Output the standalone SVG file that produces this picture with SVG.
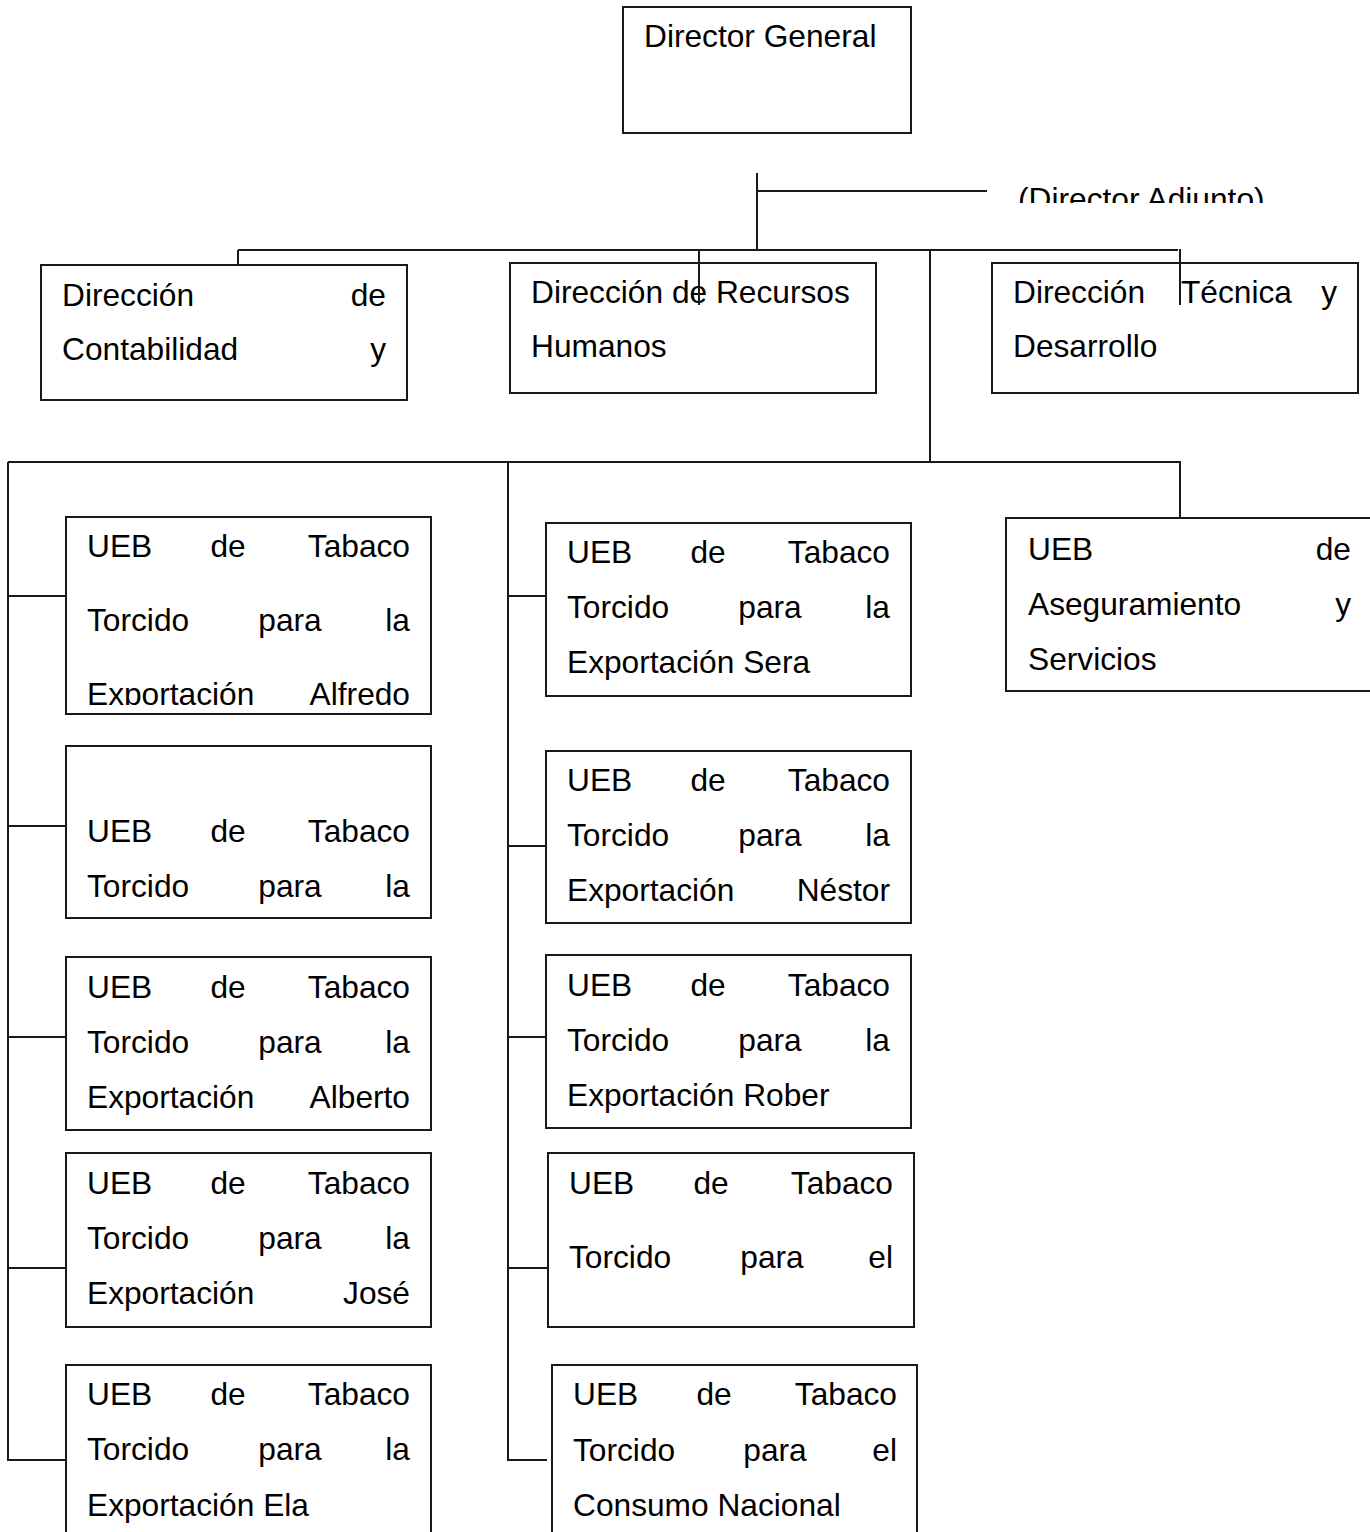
<svg xmlns="http://www.w3.org/2000/svg" width="1370" height="1532" viewBox="0 0 1370 1532">
<style>
.box{fill:#fff;stroke:#1a1a1a;stroke-width:2}
.ln{fill:none;stroke:#1a1a1a;stroke-width:2}
text{font-family:"Liberation Sans",Arial,sans-serif;font-size:31.7px;fill:#000}
.e{text-anchor:end}
.m{text-anchor:middle}
</style>
<defs>
<clipPath id="clipAdj"><rect x="990" y="170" width="380" height="33"/></clipPath>
<clipPath id="clipAlf"><rect x="66" y="517" width="366" height="188"/></clipPath>
</defs>
<rect width="1370" height="1532" fill="#fff"/>
<g id="director-general">
<rect class="box" x="623" y="7" width="288" height="126"/>
<text x="644" y="47">Director General</text>
</g>
<g id="director-adjunto">
<text x="1018" y="210" clip-path="url(#clipAdj)">(Director Adjunto)</text>
</g>
<g id="dir-contabilidad">
<rect class="box" x="41" y="265" width="366" height="135"/>
<text x="62" y="306">Dirección</text><text class="e" x="386" y="306">de</text>
<text x="62" y="360">Contabilidad</text><text class="e" x="386" y="360">y</text>
</g>
<g id="dir-rrhh">
<rect class="box" x="510" y="263" width="366" height="130"/>
<text x="531" y="303">Dirección de Recursos</text>
<text x="531" y="357">Humanos</text>
</g>
<g id="dir-tecnica">
<rect class="box" x="992" y="263" width="366" height="130"/>
<text x="1013" y="303">Dirección</text><text x="1181" y="303">Técnica</text><text class="e" x="1337" y="303">y</text>
<text x="1013" y="357">Desarrollo</text>
</g>
<g id="ueb-aseguramiento">
<rect class="box" x="1006" y="518" width="370" height="173"/>
<text x="1028" y="560">UEB</text><text class="e" x="1351" y="560">de</text>
<text x="1028" y="615">Aseguramiento</text><text class="e" x="1351" y="615">y</text>
<text x="1028" y="670">Servicios</text>
</g>
<g id="ueb-alfredo">
<rect class="box" x="66" y="517" width="365" height="197"/>
<g clip-path="url(#clipAlf)">
<text x="87" y="557">UEB</text><text class="m" x="228" y="557">de</text><text class="e" x="410" y="557">Tabaco</text>
<text x="87" y="631">Torcido</text><text class="m" x="290" y="631">para</text><text class="e" x="410" y="631">la</text>
<text x="87" y="705">Exportación</text><text class="e" x="410" y="705">Alfredo</text>
</g>
</g>
<g id="ueb-left2">
<rect class="box" x="66" y="746" width="365" height="172"/>
<text x="87" y="842">UEB</text><text class="m" x="228" y="842">de</text><text class="e" x="410" y="842">Tabaco</text>
<text x="87" y="897">Torcido</text><text class="m" x="290" y="897">para</text><text class="e" x="410" y="897">la</text>
</g>
<g id="ueb-alberto">
<rect class="box" x="66" y="957" width="365" height="173"/>
<text x="87" y="998">UEB</text><text class="m" x="228" y="998">de</text><text class="e" x="410" y="998">Tabaco</text>
<text x="87" y="1053">Torcido</text><text class="m" x="290" y="1053">para</text><text class="e" x="410" y="1053">la</text>
<text x="87" y="1108">Exportación</text><text class="e" x="410" y="1108">Alberto</text>
</g>
<g id="ueb-jose">
<rect class="box" x="66" y="1153" width="365" height="174"/>
<text x="87" y="1194">UEB</text><text class="m" x="228" y="1194">de</text><text class="e" x="410" y="1194">Tabaco</text>
<text x="87" y="1249">Torcido</text><text class="m" x="290" y="1249">para</text><text class="e" x="410" y="1249">la</text>
<text x="87" y="1304">Exportación</text><text class="e" x="410" y="1304">José</text>
</g>
<g id="ueb-ela">
<rect class="box" x="66" y="1365" width="365" height="180"/>
<text x="87" y="1405">UEB</text><text class="m" x="228" y="1405">de</text><text class="e" x="410" y="1405">Tabaco</text>
<text x="87" y="1460">Torcido</text><text class="m" x="290" y="1460">para</text><text class="e" x="410" y="1460">la</text>
<text x="87" y="1516">Exportación Ela</text>
</g>
<g id="ueb-sera">
<rect class="box" x="546" y="523" width="365" height="173"/>
<text x="567" y="563">UEB</text><text class="m" x="708" y="563">de</text><text class="e" x="890" y="563">Tabaco</text>
<text x="567" y="618">Torcido</text><text class="m" x="770" y="618">para</text><text class="e" x="890" y="618">la</text>
<text x="567" y="673">Exportación Sera</text>
</g>
<g id="ueb-nestor">
<rect class="box" x="546" y="751" width="365" height="172"/>
<text x="567" y="791">UEB</text><text class="m" x="708" y="791">de</text><text class="e" x="890" y="791">Tabaco</text>
<text x="567" y="846">Torcido</text><text class="m" x="770" y="846">para</text><text class="e" x="890" y="846">la</text>
<text x="567" y="901">Exportación</text><text class="e" x="890" y="901">Néstor</text>
</g>
<g id="ueb-rober">
<rect class="box" x="546" y="955" width="365" height="173"/>
<text x="567" y="996">UEB</text><text class="m" x="708" y="996">de</text><text class="e" x="890" y="996">Tabaco</text>
<text x="567" y="1051">Torcido</text><text class="m" x="770" y="1051">para</text><text class="e" x="890" y="1051">la</text>
<text x="567" y="1106">Exportación Rober</text>
</g>
<g id="ueb-mid4">
<rect class="box" x="548" y="1153" width="366" height="174"/>
<text x="569" y="1194">UEB</text><text class="m" x="711" y="1194">de</text><text class="e" x="893" y="1194">Tabaco</text>
<text x="569" y="1268">Torcido</text><text class="m" x="772" y="1268">para</text><text class="e" x="893" y="1268">el</text>
</g>
<g id="ueb-consumo">
<rect class="box" x="552" y="1365" width="365" height="180"/>
<text x="573" y="1405">UEB</text><text class="m" x="714" y="1405">de</text><text class="e" x="897" y="1405">Tabaco</text>
<text x="573" y="1461">Torcido</text><text class="m" x="775" y="1461">para</text><text class="e" x="897" y="1461">el</text>
<text x="573" y="1516">Consumo Nacional</text>
</g>
<g id="connectors">
<path class="ln" d="M757,173 V250 M757,191 H987 M238,250 H1178 M238,250 V265 M699,250 V305 M930,250 V462 M1180,249 V305"/>
<path class="ln" d="M8,462 H1180 V519 M8,462 V1460 H66 M8,596 H66 M8,826 H66 M8,1037 H66 M8,1268 H66"/>
<path class="ln" d="M508,461 V1460 H547 M508,596 H546 M508,846 H546 M508,1037 H546 M508,1268 H548"/>
</g>
</svg>
